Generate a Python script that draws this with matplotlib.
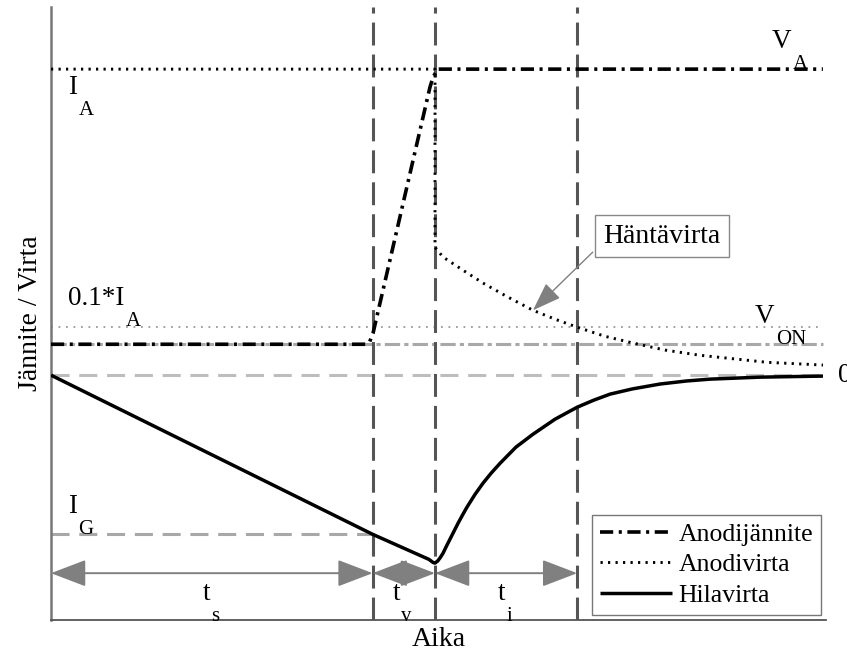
import matplotlib
matplotlib.use("Agg")
import matplotlib.pyplot as plt

plt.rcParams["font.family"] = ["Liberation Serif", "DejaVu Serif"]
plt.rcParams["lines.scale_dashes"] = False

# Switching instants (time axis, arbitrary units)
t_storage_end = 4.15
t_rise_end = 4.955
t_fall_end = 6.79
t_end = 9.96

# Reference levels (normalised to the anode current I_A)
level_IA = 1.0
level_01IA = 0.157
level_VON = 0.101
level_zero = 0.0
level_IG = -0.52
arrow_level = -0.647

# Anode voltage
va_t = [0.0, 4.06, 4.11, 4.155, 4.89, 4.93, 4.99, 9.96]
va_v = [0.101, 0.101, 0.108, 0.137, 0.941, 0.974, 1.0, 1.0]

# Anode current (with tail current)
ia_t = [0.0, 4.955, 4.955, 5.058, 5.316, 5.574, 5.897, 6.219, 6.503, 6.787,
        7.148, 7.510, 7.923, 8.374, 9.239, 9.961]
ia_v = [1.0, 1.0, 0.418, 0.386, 0.343, 0.301, 0.255, 0.212, 0.183, 0.157,
        0.127, 0.105, 0.082, 0.065, 0.042, 0.033]

# Gate current
ig_t = [0.0, 4.15, 4.877, 4.93, 4.955, 4.99, 5.02, 5.058, 5.10, 5.148, 5.20,
        5.252, 5.31, 5.368, 5.47, 5.574, 5.68, 5.794, 6.000, 6.219, 6.503,
        6.787, 7.00, 7.213, 7.50, 7.858, 8.20, 8.503, 9.148, 9.961]
ig_v = [0.0, -0.52, -0.602, -0.612, -0.614, -0.607, -0.597, -0.582, -0.560,
        -0.536, -0.510, -0.484, -0.457, -0.431, -0.390, -0.353, -0.320,
        -0.288, -0.235, -0.193, -0.144, -0.105, -0.082, -0.062, -0.045,
        -0.029, -0.019, -0.013, -0.0065, -0.003]

tail_idx = 7  # point on the tail current pointed at by the callout

legend_labels = ["Anodijännite", "Anodivirta", "Hilavirta"]

FS = 19.5
SUB_FS = 15
BIG_FS = 20

fig = plt.figure(figsize=(8.47, 6.59), dpi=100)
ax = fig.add_axes([51 / 847, 39 / 659, 775 / 847, 613 / 659])
ax.set_xlim(0, 10.0)
ax.set_ylim(-0.80, 1.203)

for s in ("top", "right"):
    ax.spines[s].set_visible(False)
ax.spines["left"].set_color("#777777")
ax.spines["left"].set_linewidth(1.8)
ax.spines["bottom"].set_color("#555555")
ax.spines["bottom"].set_linewidth(1.3)
ax.set_xticks([])
ax.set_yticks([])

# Grey reference levels
ax.plot([0, t_end], [level_zero] * 2, color="#bdbdbd", lw=2.2,
        ls=(0, (13, 7)), zorder=1)
ax.plot([0, t_end], [level_VON] * 2, color="#a8a8a8", lw=2.2,
        ls=(0, (11, 3, 3, 3)), zorder=1)
ax.plot([0, t_end], [level_01IA] * 2, color="#9a9a9a", lw=1.3,
        ls=(0, (1.3, 4.1)), zorder=1)
ax.plot([0, t_storage_end], [level_IG] * 2, color="#a8a8a8", lw=2.2,
        ls=(0, (13, 7)), zorder=1)

# Interval boundaries
for tx in (t_storage_end, t_rise_end, t_fall_end):
    ax.axvline(tx, color="#555555", lw=2.2, ls=(0, (16.5, 6.5)), zorder=2)

# Waveforms
ln_va, = ax.plot(va_t, va_v, color="black", lw=2.6,
                 ls=(0, (9.5, 4, 2.2, 4)), zorder=3)
ln_ia, = ax.plot(ia_t, ia_v, color="black", lw=2.1,
                 ls=(0, (1.6, 3.8)), zorder=3)
ln_ig, = ax.plot(ig_t, ig_v, color="black", lw=2.5, solid_capstyle="butt",
                 zorder=3)

# Interval arrows
for a, b in ((0, t_storage_end), (t_storage_end, t_rise_end),
             (t_rise_end, t_fall_end)):
    ax.annotate("", xy=(b, arrow_level), xytext=(a, arrow_level),
                arrowprops=dict(arrowstyle="<|-|>,head_length=1.1,head_width=0.42",
                                color="#808080", lw=1.4, shrinkA=0, shrinkB=0,
                                mutation_scale=20),
                zorder=2)


def sub_text(x, y, main, sub, fs=FS, sfs=SUB_FS, drop=11, gap=1.0):
    t = ax.text(x, y, main, fontsize=fs, ha="left", va="baseline", zorder=4)
    ax.annotate(sub, xy=(1, 0), xycoords=t, xytext=(gap, -drop),
                textcoords="offset points", fontsize=sfs, ha="left",
                va="baseline", zorder=4)
    return t


sub_text(0.22, 0.918, "I", "A")
sub_text(0.22, 0.229, "0.1*I", "A")
sub_text(0.22, -0.451, "I", "G")
sub_text(9.30, 1.069, "V", "A")
sub_text(9.08, 0.170, "V", "ON")
sub_text(1.96, -0.735, "t", "s", gap=0.5)
sub_text(4.41, -0.735, "t", "v", gap=0.5)
sub_text(5.77, -0.735, "t", "i", gap=0.5)

ax.text(10.16, level_zero, "0", fontsize=FS, ha="left", va="center",
        clip_on=False)

# Tail current callout
ax.text(7.88, 0.454, "Häntävirta", fontsize=BIG_FS, ha="center", va="center",
        bbox=dict(boxstyle="square,pad=0.3", fc="white", ec="#888888",
                  lw=1.0), zorder=5)
ax.annotate("", xy=(ia_t[tail_idx], ia_v[tail_idx]), xytext=(6.99, 0.402),
            arrowprops=dict(arrowstyle="-|>,head_length=0.9,head_width=0.32",
                            color="#808080", lw=1.0, shrinkA=0, shrinkB=0,
                            mutation_scale=20),
            zorder=5)

ax.set_xlabel("Aika", fontsize=BIG_FS, labelpad=5)
ax.set_ylabel("Jännite / Virta", fontsize=BIG_FS, labelpad=6)

leg = ax.legend([ln_va, ln_ia, ln_ig], legend_labels, loc="lower right",
                fontsize=18.5, handlelength=2.8, handletextpad=0.25,
                labelspacing=0.3, borderpad=0.3, borderaxespad=0.2,
                fancybox=False, framealpha=1, edgecolor="#777777")
leg.get_frame().set_linewidth(1.0)

fig.savefig("out.png", dpi=100)
